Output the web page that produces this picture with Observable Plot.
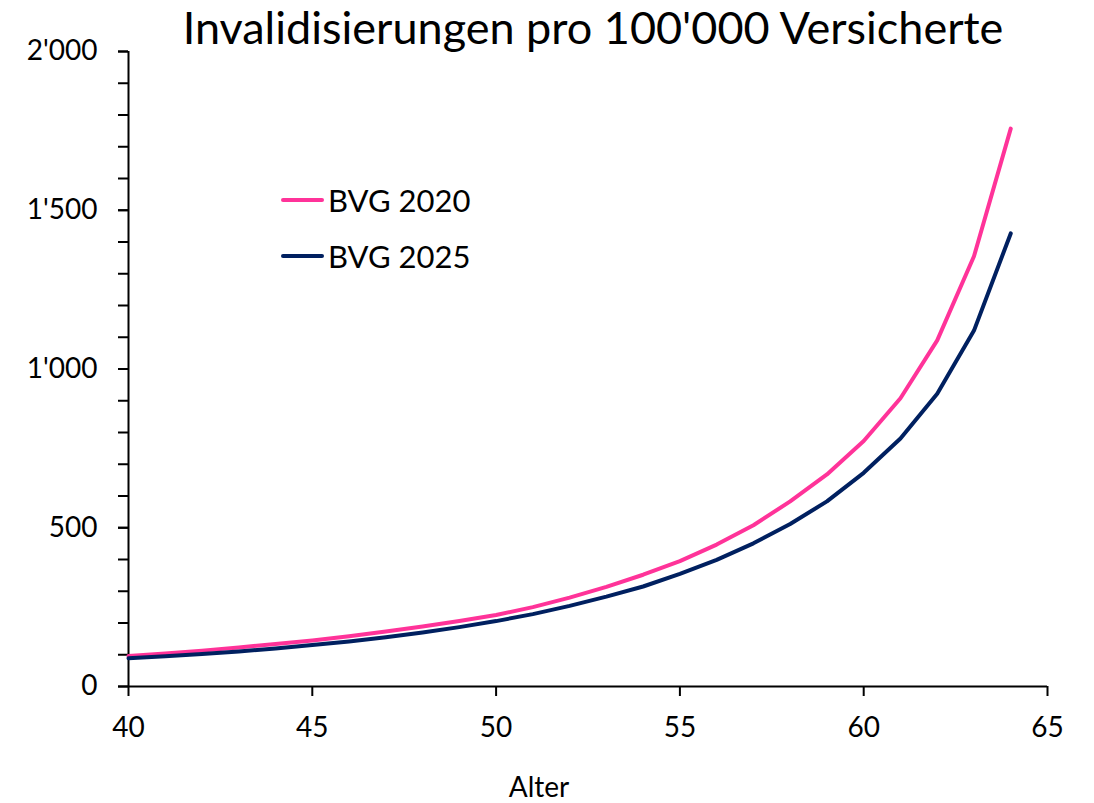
<!DOCTYPE html>
<html>
<head>
<meta charset="utf-8">
<script src="https://cdn.jsdelivr.net/npm/d3@7"></script>
<script src="https://cdn.jsdelivr.net/npm/@observablehq/plot@0.6"></script>
<style>
  html, body { margin: 0; padding: 0; background: #fff; }
  #wrap { position: relative; width: 1094px; height: 803px; font-family: Lato, "Open Sans", sans-serif; }
  #legend { position: absolute; left: 281px; top: 172px; font-size: 31px; color: #000; }
  .item { display: flex; align-items: center; height: 56px; }
  .sw { width: 43px; height: 4px; border-radius: 2px; margin-right: 4px; }
</style>
</head>
<body>
<div id="wrap"><div id="legend"></div></div>
<script>
const title = "Invalidisierungen pro 100'000 Versicherte";
const xLabel = "Alter";
const ages = [40,41,42,43,44,45,46,47,48,49,50,51,52,53,54,55,56,57,58,59,60,61,62,63,64];
const bvg2020 = [96,104,113,123,134,145,158,173,189,206,225,250,280,314,352,395,447,508,583,668,773,908,1090,1355,1757];
const bvg2025 = [89,95,102,110,120,131,142,155,170,187,206,228,254,283,315,355,399,451,512,583,673,781,922,1121,1427];
const seriesNames = ["BVG 2020", "BVG 2025"];
const seriesColors = ["#ff3399", "#002060"];
const xTicks = [40,45,50,55,60,65];
const yTicks = [0,500,1000,1500,2000];
const yMinorTicks = d3.range(0, 2001, 100);

const fmt = d3.formatLocale({decimal: ".", thousands: "'", grouping: [3], currency: ["", ""]}).format(",");

const rows = [];
ages.forEach((a, i) => {
  rows.push({age: a, value: bvg2020[i], series: seriesNames[0]});
});
ages.forEach((a, i) => {
  rows.push({age: a, value: bvg2025[i], series: seriesNames[1]});
});

const chart = Plot.plot({
  width: 1094,
  height: 803,
  marginLeft: 128,
  marginRight: 47,
  marginTop: 51,
  marginBottom: 117,
  style: {fontFamily: "Lato, 'Open Sans', sans-serif", color: "#000", background: "#fff"},
  x: {domain: [40, 65]},
  y: {domain: [0, 2000]},
  color: {domain: seriesNames, range: seriesColors},
  marks: [
    Plot.axisY(yMinorTicks, {tickSize: 10, tickFormat: () => "", strokeWidth: 2, label: null}),
    Plot.axisY(yTicks, {tickSize: 10, tickPadding: 21, tickFormat: fmt, fontSize: 28, strokeWidth: 2, label: null}),
    Plot.axisX(xTicks, {tickSize: 10, tickPadding: 21, fontSize: 28, strokeWidth: 2, label: null}),
    Plot.ruleX([40], {strokeWidth: 2}),
    Plot.ruleY([0], {strokeWidth: 2}),
    Plot.line(rows, {x: "age", y: "value", z: "series", stroke: "series", strokeWidth: 4, strokeLinejoin: "round", strokeLinecap: "round"}),
    Plot.text([title], {frameAnchor: "top", lineAnchor: "middle", dx: 5, dy: -22, fontSize: 45}),
    Plot.text([xLabel], {frameAnchor: "bottom", lineAnchor: "middle", dx: -49, dy: 102, fontSize: 28})
  ]
});
document.getElementById("wrap").prepend(chart);

const legend = document.getElementById("legend");
seriesNames.forEach((n, i) => {
  const it = document.createElement("div");
  it.className = "item";
  const sw = document.createElement("div");
  sw.className = "sw";
  sw.style.background = seriesColors[i];
  const t = document.createElement("span");
  t.textContent = n;
  it.appendChild(sw);
  it.appendChild(t);
  legend.appendChild(it);
});
</script>
</body>
</html>
